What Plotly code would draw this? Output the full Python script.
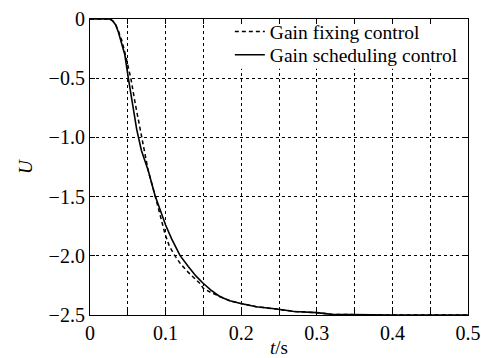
import plotly.graph_objects as go

# Gain scheduling control (solid)
t_sched = [0, 0.02, 0.026, 0.03, 0.034, 0.0375, 0.042, 0.046, 0.0507, 0.056, 0.0617, 0.068, 0.077, 0.086, 0.093,
           0.1, 0.108, 0.119, 0.13, 0.14, 0.15, 0.16, 0.172, 0.185, 0.198, 0.22, 0.247, 0.27,
           0.30, 0.32, 0.4, 0.5]
u_sched = [0, 0, 0, -0.015, -0.05, -0.11, -0.20, -0.30, -0.50, -0.72, -0.93, -1.11, -1.28, -1.49, -1.62,
           -1.74, -1.857, -1.997, -2.09, -2.17, -2.234, -2.29, -2.346, -2.38, -2.40, -2.43, -2.45, -2.47,
           -2.48, -2.495, -2.5, -2.5]

# Gain fixing control (dashed)
t_fix = [0, 0.02, 0.026, 0.03, 0.034, 0.0375, 0.042, 0.046, 0.054, 0.06, 0.066, 0.072, 0.077, 0.086, 0.0948,
         0.099, 0.105, 0.112, 0.12, 0.13, 0.1455, 0.15, 0.16, 0.172, 0.185, 0.198, 0.22, 0.247,
         0.27, 0.30, 0.32, 0.4, 0.5]
u_fix = [0, 0, 0, -0.015, -0.05, -0.10, -0.18, -0.28, -0.50, -0.72, -0.93, -1.12, -1.28, -1.49, -1.70,
         -1.81, -1.92, -1.997, -2.07, -2.14, -2.234, -2.276, -2.31, -2.346, -2.38, -2.40, -2.43, -2.45,
         -2.47, -2.48, -2.495, -2.5, -2.5]

x_tickvals = [0, 0.05, 0.1, 0.15, 0.2, 0.25, 0.3, 0.35, 0.4, 0.45, 0.5]
x_ticktext = ["0", "", "0.1", "", "0.2", "", "0.3", "", "0.4", "", "0.5"]
y_tickvals = [0, -0.5, -1.0, -1.5, -2.0, -2.5]
y_ticktext = ["0", "\u22120.5", "\u22121.0", "\u22121.5", "\u22122.0", "\u22122.5"]

font_family = "Liberation Serif"

fig = go.Figure()
fig.add_trace(go.Scatter(x=t_fix, y=u_fix, mode="lines", name="Gain fixing control",
                         line=dict(color="black", width=1.5, dash="4px,3px"), legend="legend"))
fig.add_trace(go.Scatter(x=t_sched, y=u_sched, mode="lines", name="Gain scheduling control",
                         line=dict(color="black", width=1.6), legend="legend2"))

axis_common = dict(
    showline=True, linecolor="black", linewidth=1.2, mirror="ticks",
    ticks="inside", ticklen=5, tickcolor="black", tickwidth=1,
    showgrid=True, gridcolor="black", gridwidth=1, griddash="3px,3px",
    zeroline=False, automargin=False,
    tickfont=dict(family=font_family, size=20, color="black"),
)

fig.update_xaxes(range=[0, 0.5], tickvals=x_tickvals, ticktext=x_ticktext,
                 title=dict(text="<i>t</i>/s", font=dict(family=font_family, size=19, color="black"),
                            standoff=0),
                 **axis_common)
fig.update_yaxes(range=[-2.5, 0], tickvals=y_tickvals, ticktext=y_ticktext,
                 title=dict(text="<i>U</i>", font=dict(family=font_family, size=19, color="black"),
                            standoff=10),
                 **axis_common)

legend_common = dict(xanchor="left", yanchor="middle", bgcolor="rgba(0,0,0,0)", borderwidth=0,
                     font=dict(family=font_family, size=19.5, color="black"), itemwidth=30)

fig.update_layout(
    width=481, height=358,
    margin=dict(l=90, r=13, t=17, b=43),
    paper_bgcolor="white", plot_bgcolor="white",
    font=dict(family=font_family, size=20, color="black"),
    showlegend=True,
    legend=dict(x=0.37, y=0.957, **legend_common),
    legend2=dict(x=0.37, y=0.878, **legend_common),
    shapes=[dict(type="rect", xref="x", yref="y", x0=0.182, x1=0.5, y0=-0.42, y1=0,
                 fillcolor="white", line=dict(width=0), layer="between")],
)

fig.write_html("out.html",
               config={"displayModeBar": False},
               post_script="document.body.style.margin='0';document.body.style.overflow='hidden';")
